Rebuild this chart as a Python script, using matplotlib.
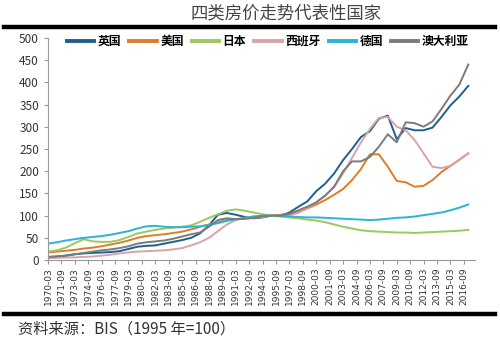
import numpy as np
import matplotlib
matplotlib.use("Agg")
import matplotlib.pyplot as plt
from matplotlib.lines import Line2D

plt.rcParams['font.family'] = ['Noto Sans CJK SC', 'DejaVu Sans']

# annual readings (Q1 of each year), 1995 = 100
years = list(range(1970, 2018))

uk = [7, 8, 10, 13, 15, 16, 17, 18, 20, 25, 30, 32, 33, 37, 41, 45, 50, 60, 78, 102,
      106, 102, 97, 94, 96, 100, 100, 107, 120, 132, 155, 172, 195, 225, 250, 277, 290, 318, 325, 272,
      297, 292, 292, 298, 322, 348, 368, 392]
us = [17, 19, 21, 23, 26, 28, 31, 35, 39, 44, 50, 54, 56, 58, 61, 64, 69, 75, 80, 85,
      90, 92, 93, 95, 97, 100, 102, 104, 108, 116, 125, 135, 147, 160, 180, 205, 238, 238, 210, 178,
      175, 165, 167, 180, 198, 212, 226, 240]
japan = [19, 22, 28, 38, 47, 42, 41, 41, 45, 52, 60, 64, 68, 71, 73, 75, 78, 86, 95, 103,
         111, 114, 111, 107, 103, 100, 98, 96, 94, 91, 89, 85, 80, 75, 71, 67, 65, 64, 63, 62,
         62, 61, 62, 63, 64, 65, 66, 68]
spain = [4, 5, 6, 6, 7, 8, 10, 12, 15, 17, 19, 20, 21, 22, 24, 27, 33, 40, 50, 65,
         80, 90, 95, 98, 98, 100, 100, 101, 106, 117, 130, 145, 165, 195, 230, 265, 295, 320, 322, 300,
         292, 270, 240, 210, 207, 212, 225, 240]
germany = [37, 40, 44, 47, 50, 52, 54, 57, 61, 65, 71, 76, 77, 75, 74, 74, 75, 76, 79, 83,
           88, 92, 95, 98, 100, 100, 99, 98, 97, 96, 96, 95, 94, 93, 92, 91, 90, 91, 93, 95,
           96, 98, 101, 104, 107, 112, 118, 125]
australia = [7, 8, 10, 13, 16, 19, 22, 24, 27, 31, 37, 40, 42, 44, 48, 53, 58, 62, 75, 90,
             94, 92, 93, 95, 99, 100, 100, 104, 112, 120, 130, 145, 165, 200, 222, 222, 232, 255, 283, 265,
             310, 308, 300, 312, 340, 370, 395, 440]

names = ['英国', '美国', '日本', '西班牙', '德国', '澳大利亚']
colors = ['#1f5f8e', '#e07b2c', '#9cc85e', '#d9a3a8', '#2ab4d6', '#7b7b7b']
series = [uk, us, japan, spain, germany, australia]

# quarterly category axis 1970-03 ... 2017-12
quarters = ['%d-%02d' % (1970 + i // 4, [3, 6, 9, 12][i % 4]) for i in range(192)]
xpos = [4 * (y - 1970) for y in years]

fig = plt.figure(figsize=(5.0, 3.44), dpi=100)
ax = fig.add_axes([0.096, 0.244, 0.854, 0.646])

for vals, c, n in zip(series, colors, names):
    ax.plot(xpos, vals, color=c, lw=1.4, label=n)

ax.set_xlim(0, 191)
ax.set_ylim(0, 500)
ax.set_yticks(range(0, 501, 50))
ax.set_xticks(range(0, 192, 6))
ax.set_xticklabels([quarters[i] for i in range(0, 192, 6)], rotation=90,
                   fontsize=6.5, family='DejaVu Sans', color='#333333')
ax.tick_params(axis='y', labelsize=8.5, colors='#333333', length=3, color='#999999')
ax.tick_params(axis='x', length=3, color='#999999', pad=2)
for s in ['top', 'right']:
    ax.spines[s].set_visible(False)
for s in ['left', 'bottom']:
    ax.spines[s].set_color('#999999')
    ax.spines[s].set_linewidth(0.8)

handles = [Line2D([0], [0], color=c, lw=2.8) for c in colors]
leg = ax.legend(handles, names, loc='upper center', ncol=6, frameon=False,
                bbox_to_anchor=(0.515, 1.045), fontsize=8.5, handlelength=2.3,
                handletextpad=0.3, columnspacing=0.7, borderaxespad=0.2)
for t in leg.get_texts():
    t.set_fontweight('bold')

fig.text(0.572, 0.962, '四类房价走势代表性国家', ha='center', va='center',
         fontsize=12.5, color='#444444')
fig.add_artist(Line2D([0.008, 0.99], [0.921, 0.921], color='black', lw=3.2))
fig.add_artist(Line2D([0.008, 0.99], [0.088, 0.088], color='black', lw=3.2))
fig.text(0.036, 0.044, '资料来源：BIS（1995 年=100）', ha='left', va='center',
         fontsize=11, style='italic', color='#333333')

fig.savefig('out.png', dpi=100)
